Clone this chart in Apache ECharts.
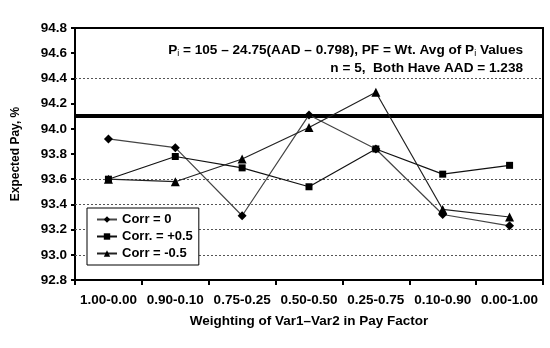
<!DOCTYPE html>
<html>
<head>
<meta charset="utf-8">
<script src="https://cdn.jsdelivr.net/npm/echarts@6/dist/echarts.min.js"></script>
<style>
  html, body { margin: 0; padding: 0; background: #fff; }
  #chart { width: 550px; height: 348px; }
</style>
</head>
<body>
<div id="chart"></div>
<script>
// Weightings of the two variables in the pay factor
const categories = ['1.00-0.00', '0.90-0.10', '0.75-0.25', '0.50-0.50', '0.25-0.75', '0.10-0.90', '0.00-1.00'];

// Expected pay (%) for each correlation case
const corrZero   = [93.92, 93.85, 93.31, 94.11, 93.84, 93.32, 93.23];
const corrPlus05 = [93.60, 93.78, 93.69, 93.54, 93.84, 93.64, 93.71];
const corrMinus05 = [93.60, 93.58, 93.76, 94.01, 94.29, 93.36, 93.30];

const seriesNames = ['Corr = 0', 'Corr. = +0.5', 'Corr = -0.5'];

// Reference levels
const gridValues = [93.0, 93.2, 93.4, 93.6, 94.4];
const referencePay = 94.1;

const yMin = 92.8, yMax = 94.8, yStep = 0.2;

const FONT = '"Liberation Sans", Arial, sans-serif';

const chart = echarts.init(document.getElementById('chart'), null, { renderer: 'canvas' });

function lineSeries(name, data, symbol, size, color) {
  return {
    name: name,
    type: 'line',
    data: data,
    symbol: symbol,
    symbolSize: size,
    z: 3,
    itemStyle: { color: '#000' },
    lineStyle: { color: color, width: 1.2 },
    emphasis: { disabled: true },
    animation: false
  };
}

const option = {
  animation: false,
  grid: {
    left: 75, right: 7, top: 28, bottom: 68,
    show: true, borderColor: '#000', borderWidth: 2, backgroundColor: 'transparent'
  },
  legend: {
    data: seriesNames,
    orient: 'vertical',
    left: 87, top: 208,
    padding: [5, 6, 5, 9],
    itemGap: 4,
    itemWidth: 20, itemHeight: 8,
    backgroundColor: '#fff',
    borderColor: '#000', borderWidth: 1,
    z: 20,
    textStyle: { fontFamily: FONT, fontWeight: 'bold', fontSize: 13, color: '#000' }
  },
  xAxis: {
    type: 'category',
    data: categories,
    boundaryGap: true,
    name: 'Weighting of Var1\u2013Var2 in Pay Factor',
    nameLocation: 'middle',
    nameGap: 34,
    nameTextStyle: { fontFamily: FONT, fontWeight: 'bold', fontSize: 13.5, color: '#000' },
    axisLine: { lineStyle: { color: '#000', width: 2 } },
    axisTick: { show: true, length: 5, lineStyle: { color: '#000', width: 2 } },
    axisLabel: {
      interval: 0, hideOverlap: false,
      fontFamily: FONT, fontWeight: 'bold', fontSize: 13.5, color: '#000', margin: 13
    },
    splitLine: { show: false }
  },
  yAxis: {
    type: 'value',
    min: yMin, max: yMax, interval: yStep,
    name: 'Expected Pay, %',
    nameLocation: 'middle',
    nameGap: 53,
    nameTextStyle: { fontFamily: FONT, fontWeight: 'bold', fontSize: 12, color: '#000' },
    axisLine: { show: true, lineStyle: { color: '#000', width: 2 } },
    axisTick: { show: true, length: 4, lineStyle: { color: '#000', width: 2 } },
    axisLabel: {
      fontFamily: FONT, fontWeight: 'bold', fontSize: 13.5, color: '#000', margin: 8,
      formatter: v => v.toFixed(1)
    },
    splitLine: { show: false }
  },
  graphic: [
    {
      type: 'text', right: 27, top: 42, z: 10,
      style: {
        text: '{t|P}{s|i}{t| = 105 \u2013 24.75(AAD \u2013 0.798), PF = Wt. Avg of P}{s|i}{t| Values}',
        rich: {
          t: { fontFamily: FONT, fontWeight: 'bold', fontSize: 13.6, fill: '#000', lineHeight: 16 },
          s: { fontFamily: FONT, fontSize: 9, fill: '#000', lineHeight: 16, verticalAlign: 'bottom', padding: [7, 0, 0, 0] }
        }
      }
    },
    {
      type: 'text', right: 27, top: 61, z: 10,
      style: {
        text: 'n = 5,  Both Have AAD = 1.238',
        font: 'bold 13.6px ' + FONT,
        fill: '#000'
      }
    }
  ],
  series: [
    {
      name: 'levels',
      type: 'line',
      data: [],
      z: 1,
      silent: true,
      markLine: {
        z: 1,
        silent: true,
        symbol: 'none',
        label: { show: false },
        animation: false,
        data: gridValues.map(v => ({
          yAxis: v,
          lineStyle: { color: '#555', type: [2, 2], width: 1 }
        })).concat([{
          yAxis: referencePay,
          lineStyle: { color: '#000', type: 'solid', width: 4 }
        }])
      }
    },
    lineSeries(seriesNames[0], corrZero, 'diamond', 9, '#444'),
    lineSeries(seriesNames[1], corrPlus05, 'rect', 7, '#111'),
    lineSeries(seriesNames[2], corrMinus05, 'triangle', 9, '#222')
  ]
};

chart.setOption(option);
</script>
</body>
</html>
